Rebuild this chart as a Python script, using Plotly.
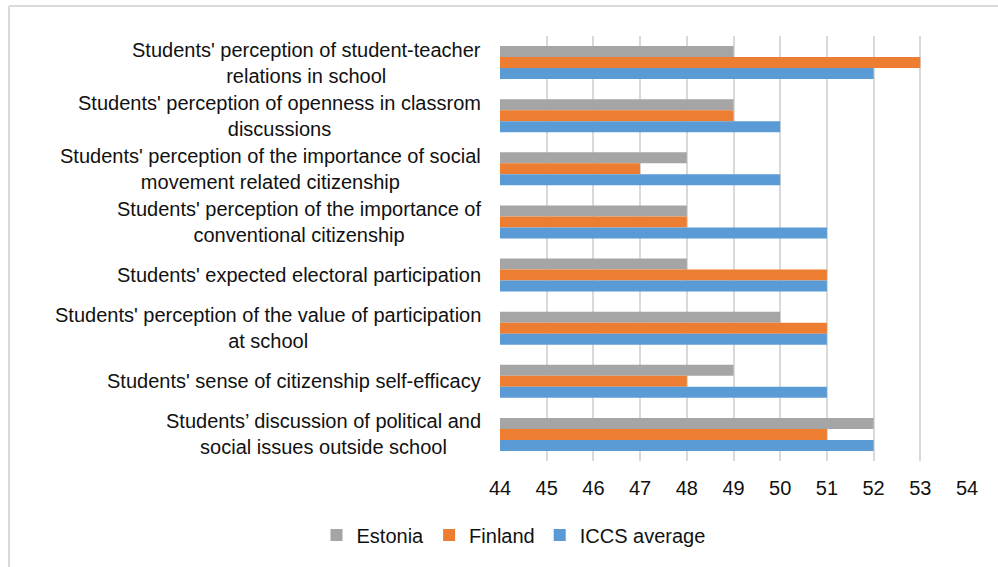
import plotly.graph_objects as go

categories = [
    "Students' perception of student-teacher<br>relations in school",
    "Students' perception of openness in classrom<br>discussions",
    "Students' perception of the importance of social<br>movement related citizenship",
    "Students' perception of the importance of<br>conventional citizenship",
    "Students' expected electoral participation",
    "Students' perception of the value of participation<br>at school",
    "Students' sense of citizenship self-efficacy",
    "Students\u2019 discussion of political and<br>social issues outside school",
]
estonia = [49, 49, 48, 48, 48, 50, 49, 52]
finland = [53, 49, 47, 48, 51, 51, 48, 51]
iccs = [52, 50, 50, 51, 51, 51, 51, 52]
x_ticks = list(range(44, 55))

series = [
    ("Estonia", estonia, "#A5A5A5"),
    ("Finland", finland, "#ED7D31"),
    ("ICCS average", iccs, "#5B9BD5"),
]

FONT = "Liberation Sans, Arial, sans-serif"
FS = 20

fig = go.Figure()
ids = list(range(len(categories)))
for name, vals, color in series:
    fig.add_trace(go.Bar(
        y=ids, x=[v - 44 for v in vals], base=44, name=name, orientation="h",
        marker=dict(color=color, line=dict(width=0)),
    ))

annotations = []
for i, cat in enumerate(categories):
    annotations.append(dict(
        x=0, xref="paper", y=i, yref="y", text=cat, showarrow=False,
        xanchor="right", yanchor="middle", align="center", xshift=-17,
        font=dict(family=FONT, size=FS, color="#111111"),
    ))

shapes = [
    dict(type="line", xref="paper", yref="paper",
         x0=(10 - 500.5) / 466.5, x1=(1010 - 500.5) / 466.5,
         y0=(461 - 6) / 425, y1=(461 - 6) / 425,
         line=dict(color="#D9D9D9", width=2)),
    dict(type="line", xref="paper", yref="paper",
         x0=(10 - 500.5) / 466.5, x1=(10 - 500.5) / 466.5,
         y0=(461 - 6) / 425, y1=(461 - 580) / 425,
         line=dict(color="#D9D9D9", width=2)),
]

fig.update_layout(
    width=998, height=567,
    margin=dict(l=500, r=31, t=36, b=106),
    paper_bgcolor="white", plot_bgcolor="white",
    barmode="group", bargap=0.377, bargroupgap=0,
    font=dict(family=FONT, size=FS, color="#111111"),
    xaxis=dict(
        range=[44, 54], tickvals=x_ticks, ticktext=[str(t) for t in x_ticks],
        showgrid=True, gridcolor="#D9D9D9", gridwidth=1.5,
        zeroline=False, showline=False, ticks="",
        tickfont=dict(family=FONT, size=FS, color="#111111"),
        ticklabelstandoff=13,
    ),
    yaxis=dict(
        autorange="reversed", showticklabels=False, showgrid=False,
        zeroline=False, showline=False, ticks="",
    ),
    legend=dict(
        orientation="h", x=(514 - 500.5) / 466.5, xanchor="center",
        y=(461 - 535) / 425, yanchor="middle",
        font=dict(family=FONT, size=FS, color="#111111"),
        itemwidth=30, traceorder="normal",
    ),
    annotations=annotations,
    shapes=shapes,
    showlegend=True,
)

fig.write_html("out.html")
